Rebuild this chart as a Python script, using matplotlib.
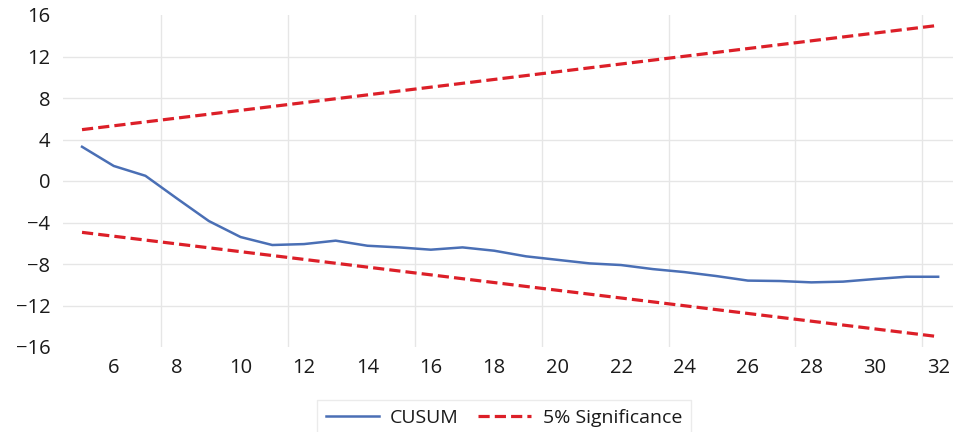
import numpy as np
import matplotlib
matplotlib.use("Agg")
import matplotlib.pyplot as plt
from matplotlib.ticker import FixedLocator

plt.rcParams['font.family'] = ['Open Sans', 'DejaVu Sans']

# data
obs = list(range(5, 33))
cusum = [3.3, 1.45, 0.5, -1.7, -3.86, -5.4, -6.17, -6.08, -5.75, -6.24,
         -6.4, -6.62, -6.4, -6.72, -7.26, -7.6, -7.94, -8.1, -8.49, -8.78,
         -9.16, -9.6, -9.64, -9.77, -9.7, -9.45, -9.23, -9.23]
sig_x = [5, 32]
sig_upper = [4.95, 15.0]
sig_lower = [-4.95, -15.0]

yticks = [-16, -12, -8, -4, 0, 4, 8, 12, 16]
xticks = [6, 8, 10, 12, 14, 16, 18, 20, 22, 24, 26, 28, 30, 32]
xgrid = [7.5, 11.5, 15.5, 19.5, 23.5, 27.5, 31.5]

fig = plt.figure(figsize=(9.54, 4.32), dpi=100)
ax = fig.add_axes([63 / 954, 1 - 347 / 432, 1 - 63 / 954, (347 - 15) / 432])

blue = '#4a6fb5'
red = '#dc1f28'
l1, = ax.plot(obs, cusum, color=blue, lw=1.8, label='CUSUM')
l2, = ax.plot(sig_x, sig_upper, color=red, lw=2.3, dashes=(3.5, 1.6), label='5% Significance')
ax.plot(sig_x, sig_lower, color=red, lw=2.3, dashes=(3.5, 1.6))

ax.set_xlim(4.4, 32.5)
ax.set_ylim(-16, 16)
ax.set_yticks(yticks)
ax.set_xticks(xticks)
ax.xaxis.set_minor_locator(FixedLocator(xgrid))

ax.grid(axis='y', which='major', color='#e6e6e6', lw=1)
ax.grid(axis='x', which='minor', color='#e6e6e6', lw=1)
gl = ax.yaxis.get_gridlines()
gl[0].set_visible(False)
gl[-1].set_visible(False)
ax.set_axisbelow(True)

for s in ax.spines.values():
    s.set_visible(False)
ax.tick_params(which='both', length=0)
ax.tick_params(axis='y', pad=9, labelsize=14.5, labelcolor='#1a1a1a')
ax.tick_params(axis='x', pad=8, labelsize=14.5, labelcolor='#1a1a1a')

leg = fig.legend(handles=[l1, l2], loc='center', bbox_to_anchor=(504 / 954, 1 - 418 / 432),
                 ncol=2, fontsize=14, handlelength=2.7, handletextpad=0.6,
                 columnspacing=1.0, frameon=True, fancybox=False, borderpad=0.45)
leg.get_frame().set_edgecolor('#e6e6e6')
leg.get_frame().set_linewidth(1)
for t in leg.get_texts():
    t.set_color('#1a1a1a')

fig.savefig('out.png', dpi=100)
